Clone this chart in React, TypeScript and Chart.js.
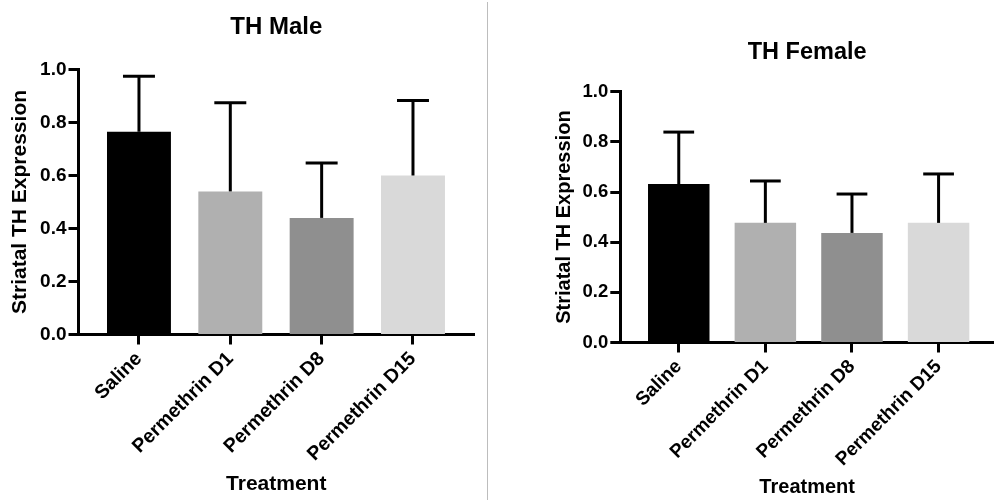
import React, { useEffect, useRef } from "react";
import { Chart, registerables } from "chart.js";

Chart.register(...registerables);

// ---------- data ----------
const categories = ["Saline", "Permethrin D1", "Permethrin D8", "Permethrin D15"];
const maleMeans = [0.765, 0.54, 0.44, 0.6];
const maleSD = [0.21, 0.335, 0.207, 0.283];
const femaleMeans = [0.632, 0.477, 0.437, 0.477];
const femaleSD = [0.207, 0.167, 0.155, 0.195];
const barColors = ["#000000", "#b0b0b0", "#8f8f8f", "#d9d9d9"];
const yTickValues = [0, 0.2, 0.4, 0.6, 0.8, 1.0];

const FONT = '"Liberation Sans", Arial, Helvetica, sans-serif';

const errorBarPlugin = {
  id: "errorBars",
  afterDatasetsDraw(chart: any, _args: any, opts: any) {
    const { ctx } = chart;
    const meta = chart.getDatasetMeta(0);
    const yScale = chart.scales.y;
    const errs: number[] = opts.errors || [];
    const vals: any[] = chart.data.datasets[0].data;
    ctx.save();
    ctx.strokeStyle = "#000";
    ctx.lineWidth = 3;
    ctx.lineCap = "butt";
    meta.data.forEach((bar: any, i: number) => {
      const p = bar.getProps(["x", "y", "width"], true);
      const top = yScale.getPixelForValue(vals[i].y + errs[i]);
      const half = p.width * 0.25;
      ctx.beginPath();
      ctx.moveTo(p.x, p.y);
      ctx.lineTo(p.x, top);
      ctx.stroke();
      ctx.beginPath();
      ctx.moveTo(p.x - half, top);
      ctx.lineTo(p.x + half, top);
      ctx.stroke();
    });
    ctx.restore();
  },
};

type Spec = {
  title: string;
  means: number[];
  sds: number[];
  titleSize: number;
  titlePadTop: number;
  titlePadBottom: number;
  axisTitleSize: number;
  xTickSize: number;
  yTickSize: number;
  yWidth: number;
  yTitlePad: number;
  xHeight: number;
  xTitlePad: number;
  xMin: number;
  xMax: number;
  barPct: number;
  padRight: number;
};

function makeConfig(s: Spec): any {
  const xTickFont = { family: FONT, size: s.xTickSize, weight: "bold" as const };
  const yTickFont = { family: FONT, size: s.yTickSize, weight: "bold" as const };
  const axisTitleFont = { family: FONT, size: s.axisTitleSize, weight: "bold" as const };
  return {
    type: "bar",
    data: {
      datasets: [
        {
          data: categories.map((_, i) => ({ x: i, y: s.means[i] })),
          backgroundColor: barColors,
          borderWidth: 0,
          categoryPercentage: 1,
          barPercentage: s.barPct,
        },
      ],
    },
    options: {
      responsive: false,
      animation: false,
      events: [],
      layout: { padding: { left: 0, top: 0, bottom: 0, right: s.padRight } },
      plugins: {
        legend: { display: false },
        tooltip: { enabled: false },
        title: {
          display: true,
          fullSize: false,
          text: s.title,
          color: "#000",
          font: { family: FONT, size: s.titleSize, weight: "bold" },
          padding: { top: s.titlePadTop, bottom: s.titlePadBottom },
        },
        errorBars: { errors: s.sds },
      },
      scales: {
        x: {
          type: "linear",
          min: s.xMin,
          max: s.xMax,
          offset: false,
          afterBuildTicks: (sc: any) => {
            sc.ticks = categories.map((_, i) => ({ value: i }));
          },
          afterFit: (sc: any) => {
            sc.height = s.xHeight;
            sc.paddingLeft = 0;
            sc.paddingRight = 0;
          },
          ticks: {
            autoSkip: false,
            minRotation: 45,
            maxRotation: 45,
            padding: 3,
            color: "#000",
            font: xTickFont,
            callback: (v: any) => categories[Math.round(Number(v))] ?? "",
          },
          grid: {
            display: true,
            offset: false,
            drawOnChartArea: false,
            drawTicks: true,
            tickLength: 10,
            tickWidth: 3,
            tickColor: "#000",
          },
          border: { display: true, color: "#000", width: 3 },
          title: {
            display: true,
            text: "Treatment",
            color: "#000",
            font: axisTitleFont,
            padding: { top: 0, bottom: s.xTitlePad },
          },
        },
        y: {
          type: "linear",
          min: 0,
          max: 1,
          afterBuildTicks: (sc: any) => {
            sc.ticks = yTickValues.map((v) => ({ value: v }));
          },
          afterFit: (sc: any) => {
            sc.width = s.yWidth;
            sc.paddingTop = 0;
            sc.paddingBottom = 0;
          },
          ticks: {
            padding: 2,
            color: "#000",
            font: yTickFont,
            callback: (v: any) => Number(v).toFixed(1),
          },
          grid: {
            display: true,
            drawOnChartArea: false,
            drawTicks: true,
            tickLength: 10,
            tickWidth: 3,
            tickColor: "#000",
          },
          border: { display: true, color: "#000", width: 3 },
          title: {
            display: true,
            text: "Striatal TH Expression",
            color: "#000",
            font: axisTitleFont,
            padding: { top: s.yTitlePad, bottom: 0 },
          },
        },
      },
    },
    plugins: [errorBarPlugin],
  };
}

const maleSpec: Spec = {
  title: "TH Male",
  means: maleMeans,
  sds: maleSD,
  titleSize: 24,
  titlePadTop: 13,
  titlePadBottom: 27.7,
  axisTitleSize: 21,
  xTickSize: 19.5,
  yTickSize: 19,
  yWidth: 78.5,
  yTitlePad: 7.4,
  xHeight: 167.5,
  xTitlePad: 5.4,
  xMin: -0.662,
  xMax: 3.668,
  barPct: 0.7,
  padRight: 13,
};

const femaleSpec: Spec = {
  title: "TH Female",
  means: femaleMeans,
  sds: femaleSD,
  titleSize: 23.5,
  titlePadTop: 38.4,
  titlePadBottom: 25.1,
  axisTitleSize: 20,
  xTickSize: 19,
  yTickSize: 18.5,
  yWidth: 131.3,
  yTitlePad: 63,
  xHeight: 159.5,
  xTitlePad: 2.5,
  xMin: -0.675,
  xMax: 3.64,
  barPct: 0.71,
  padRight: 0,
};

function BarChart({ spec, width, height }: { spec: Spec; width: number; height: number }) {
  const ref = useRef<HTMLCanvasElement | null>(null);
  useEffect(() => {
    if (!ref.current) return;
    const chart = new Chart(ref.current, makeConfig(spec));
    return () => chart.destroy();
  }, [spec]);
  return <canvas ref={ref} width={width} height={height} style={{ display: "block", width, height }} />;
}

export default function App() {
  return (
    <div
      style={{
        position: "fixed",
        left: 0,
        top: 0,
        width: 994,
        height: 502,
        background: "#ffffff",
        overflow: "hidden",
      }}
    >
      <div style={{ position: "absolute", left: 0, top: 0 }}>
        <BarChart spec={maleSpec} width={487} height={502} />
      </div>
      <div
        style={{
          position: "absolute",
          left: 487,
          top: 2,
          width: 1,
          height: 498,
          background: "#bdbdbd",
        }}
      />
      <div style={{ position: "absolute", left: 489, top: 0 }}>
        <BarChart spec={femaleSpec} width={505} height={502} />
      </div>
    </div>
  );
}
